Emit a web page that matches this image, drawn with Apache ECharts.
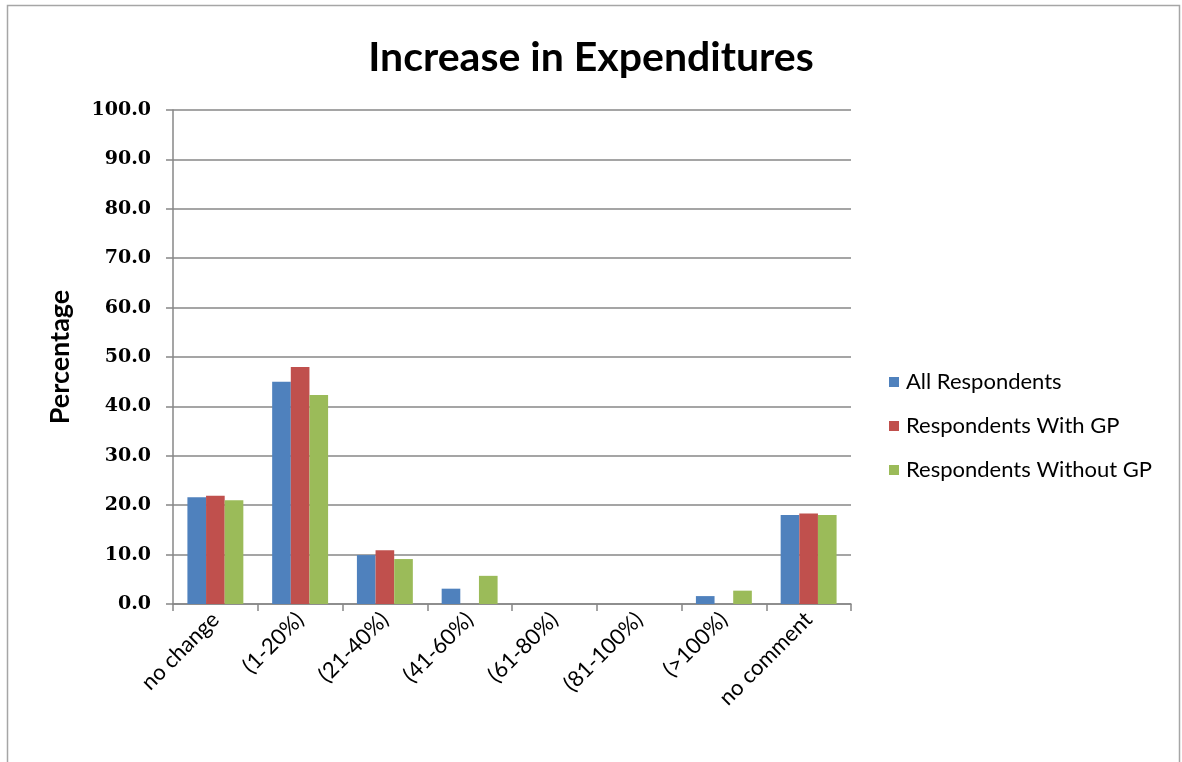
<!DOCTYPE html>
<html>
<head>
<meta charset="utf-8">
<style>
  html, body { margin: 0; padding: 0; background: #fff; }
  #chart { width: 1182px; height: 762px; }
</style>
<script src="https://cdn.jsdelivr.net/npm/echarts@6/dist/echarts.min.js"></script>
</head>
<body>
<div id="chart"></div>
<script>
// Expenditure increase categories and the share of respondents in each (%)
const categories = ['no change', '(1-20%)', '(21-40%)', '(41-60%)', '(61-80%)', '(81-100%)', '(>100%)', 'no comment'];
const allRespondents = [21.6, 45.0, 9.9, 3.1, 0, 0, 1.6, 18.0];
const withGP = [21.9, 48.0, 10.9, 0, 0, 0, 0, 18.3];
const withoutGP = [21.0, 42.3, 9.1, 5.7, 0, 0, 2.7, 18.0];
const seriesNames = ['All Respondents', 'Respondents With GP', 'Respondents Without GP'];
const colors = ['#4F81BD', '#C0504D', '#9BBB59'];

const sansFont = 'Lato, "Open Sans", sans-serif';
const axisGray = '#878787';

const chart = echarts.init(document.getElementById('chart'));

const seriesData = [allRespondents, withGP, withoutGP];

chart.setOption({
  backgroundColor: '#ffffff',
  animation: false,
  color: colors,
  title: {
    text: 'Increase in Expenditures',
    left: 'center',
    top: 32,
    textStyle: { fontFamily: sansFont, fontWeight: 'bold', fontSize: 41, color: '#000' }
  },
  graphic: [{
    type: 'rect',
    shape: { x: 7.5, y: 5.5, width: 1172, height: 800 },
    style: { fill: 'none', stroke: '#a6a6a6', lineWidth: 1.5 },
    silent: true
  }],
  legend: {
    orient: 'vertical',
    left: 884,
    top: 366,
    itemWidth: 10,
    itemHeight: 10,
    itemGap: 22,
    icon: 'rect',
    textStyle: { fontFamily: sansFont, fontSize: 22, color: '#000', padding: [0, 0, 0, 2] },
    data: seriesNames
  },
  grid: { left: 173, right: 331, top: 110, bottom: 158, containLabel: false },
  xAxis: {
    type: 'category',
    data: categories,
    axisLine: { lineStyle: { color: axisGray, width: 1.5 } },
    axisTick: { show: true, length: 7, lineStyle: { color: axisGray, width: 1.5 } },
    axisLabel: {
      rotate: 45,
      margin: 12,
      interval: 0,
      fontFamily: sansFont,
      fontSize: 22,
      color: '#000'
    }
  },
  yAxis: {
    type: 'value',
    min: 0,
    max: 100,
    interval: 10,
    name: 'Percentage',
    nameLocation: 'middle',
    nameRotate: 90,
    nameGap: 99,
    nameTextStyle: { fontFamily: sansFont, fontWeight: 'bold', fontSize: 27, color: '#000' },
    axisLine: { show: true, lineStyle: { color: axisGray, width: 1.5 } },
    axisTick: { show: true, length: 7, lineStyle: { color: axisGray, width: 1.5 } },
    axisLabel: {
      formatter: v => v.toFixed(1),
      margin: 22,
      fontFamily: '"DejaVu Serif", serif',
      fontWeight: 'bold',
      fontSize: 19,
      color: '#000'
    },
    splitLine: { lineStyle: { color: axisGray, width: 1.5 } }
  },
  series: seriesNames.map((name, i) => ({
    name,
    type: 'bar',
    data: seriesData[i],
    barGap: '0%',
    barCategoryGap: '34%',
    itemStyle: { color: colors[i] }
  }))
});
</script>
</body>
</html>
